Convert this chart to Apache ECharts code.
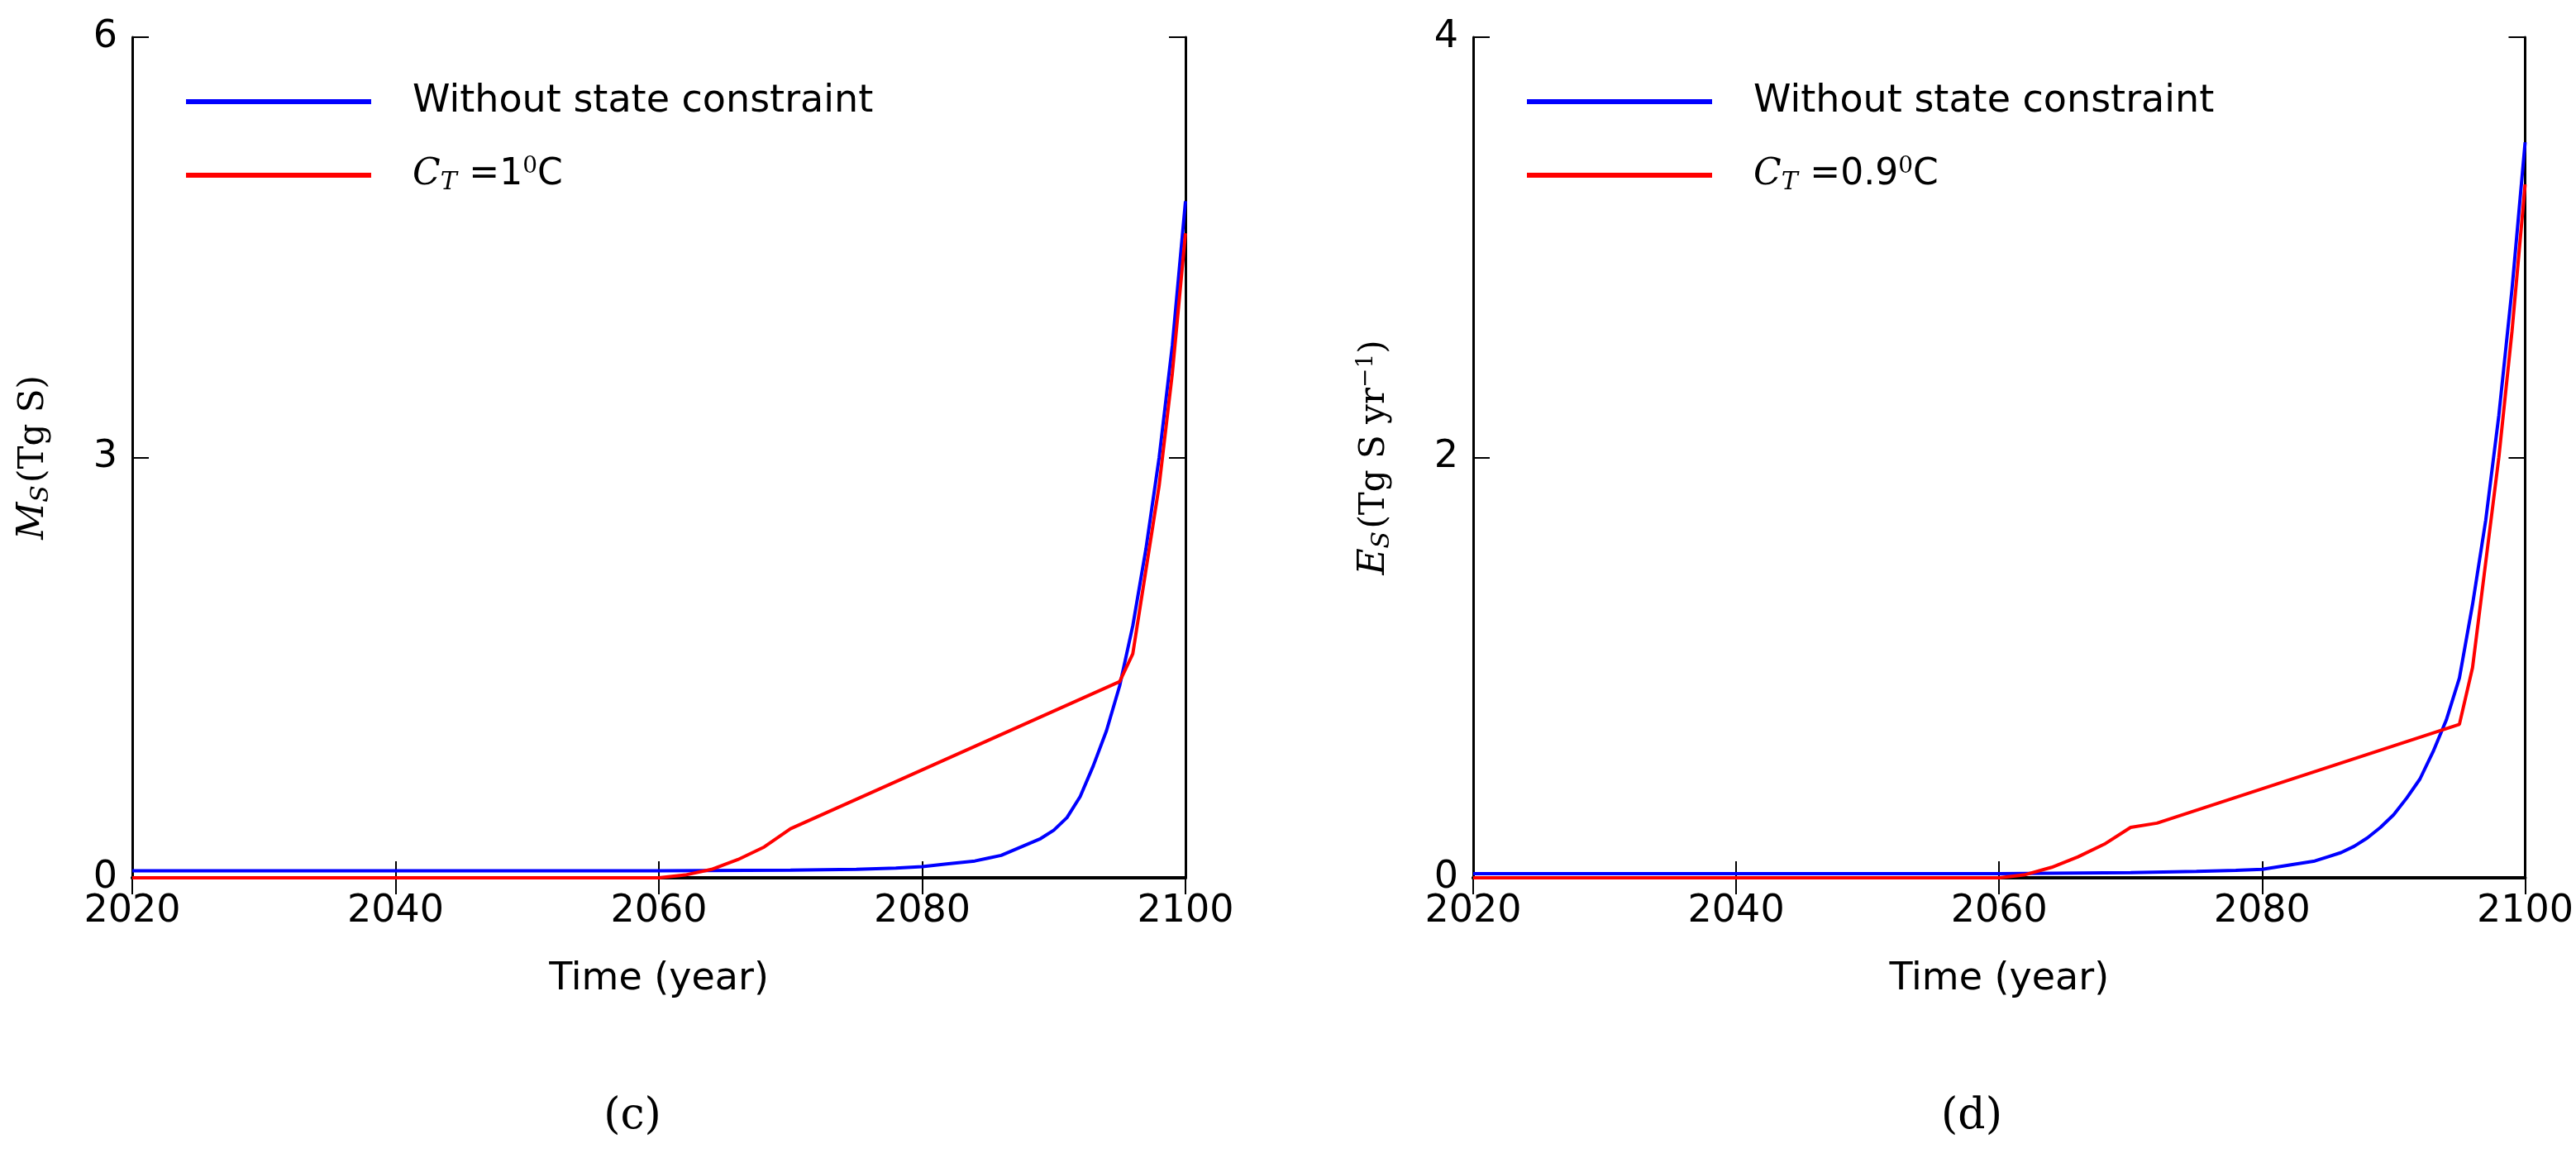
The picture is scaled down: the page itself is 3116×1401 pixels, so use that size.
<!DOCTYPE html>
<html>
<head>
<meta charset="utf-8">
<script src="https://cdn.jsdelivr.net/npm/echarts@6/dist/echarts.min.js"></script>
<style>html,body{margin:0;background:#fff}#root{width:3116px;height:1401px}</style>
</head>
<body>
<div id="root"></div>
<script>
// 数据
var yearsC = [2020, 2040, 2060, 2070, 2075, 2078, 2080, 2082, 2084, 2085, 2086, 2087, 2088, 2089, 2090, 2091, 2092, 2093, 2094, 2095, 2096, 2097, 2098, 2099, 2100];
var blueC  = [0.05, 0.05, 0.05, 0.055, 0.06, 0.07, 0.08, 0.1, 0.12, 0.14, 0.16, 0.2, 0.24, 0.28, 0.34, 0.43, 0.58, 0.8, 1.05, 1.37, 1.8, 2.35, 3.0, 3.8, 4.83];
var redYearsC = [2020, 2060, 2062, 2064, 2066, 2068, 2070, 2095, 2096, 2097, 2098, 2099, 2100];
var redC      = [0.0, 0.0, 0.02, 0.06, 0.13, 0.22, 0.35, 1.4, 1.6, 2.2, 2.8, 3.6, 4.6];

var yearsD = [2020, 2040, 2060, 2070, 2075, 2078, 2080, 2082, 2084, 2085, 2086, 2087, 2088, 2089, 2090, 2091, 2092, 2093, 2094, 2095, 2096, 2097, 2098, 2099, 2100];
var blueD  = [0.02, 0.02, 0.02, 0.025, 0.03, 0.035, 0.04, 0.06, 0.08, 0.1, 0.12, 0.15, 0.19, 0.24, 0.3, 0.38, 0.47, 0.6, 0.75, 0.95, 1.3, 1.7, 2.2, 2.8, 3.5];
var redYearsD = [2020, 2060, 2062, 2064, 2066, 2068, 2070, 2072, 2095, 2096, 2097, 2098, 2099, 2100];
var redD      = [0.0, 0.0, 0.015, 0.05, 0.1, 0.16, 0.24, 0.26, 0.73, 1.0, 1.5, 2.0, 2.6, 3.3];

var yMaxC = 6, yStepC = 3, yMaxD = 4, yStepD = 2;

function pairs(xs, ys) { return xs.map(function (x, i) { return [x, ys[i]]; }); }

var FONT = 'DejaVu Sans';
var rich = {
  i: { fontFamily: 'DejaVu Serif', fontStyle: 'italic', fontSize: 44, color: '#000' },
  s: { fontFamily: 'DejaVu Serif', fontStyle: 'italic', fontSize: 30, color: '#000', padding: [18, 0, 0, 0] },
  sup: { fontFamily: 'DejaVu Serif', fontSize: 28, color: '#000', padding: [0, 0, 20, 0] },
  n: { fontFamily: FONT, fontSize: 44, color: '#000' },
  r: { fontFamily: 'DejaVu Serif', fontSize: 42, color: '#000' }
};

var grids = [
  { left: 160, width: 1274, top: 45, height: 1017 },
  { left: 1782, width: 1274, top: 45, height: 1017 }
];

var xAxes = [], yAxes = [];
[0, 1].forEach(function (g) {
  var tick = { show: true, inside: true, length: 20, lineStyle: { color: '#000', width: 2 } };
  xAxes.push({
    type: 'value', gridIndex: g, min: 2020, max: 2100, interval: 20,
    axisLine: { lineStyle: { color: '#000', width: 3 } }, axisTick: tick, splitLine: { show: false },
    axisLabel: { fontFamily: FONT, fontSize: 46, color: '#000', margin: 18, formatter: function (v) { return String(v); } },
    name: 'Time (year)', nameLocation: 'middle', nameGap: 100,
    nameTextStyle: { fontFamily: FONT, fontSize: 46, color: '#000' }
  });
  xAxes.push({
    type: 'value', gridIndex: g, position: 'top', min: 2020, max: 2100, interval: 20,
    axisLine: { show: true, lineStyle: { color: '#000', width: 4 } }, axisTick: tick,
    axisLabel: { show: false }, splitLine: { show: false }
  });
  var mx = g === 0 ? yMaxC : yMaxD, st = g === 0 ? yStepC : yStepD;
  yAxes.push({
    type: 'value', gridIndex: g, min: 0, max: mx, interval: st,
    axisLine: { show: true, lineStyle: { color: '#000', width: 3 } }, axisTick: tick, splitLine: { show: false },
    axisLabel: { fontFamily: FONT, fontSize: 46, color: '#000', margin: 18 },
    name: g === 0 ? '{i|M}{s|S} {r|(Tg S)}' : '{i|E}{s|S} {r|(Tg S yr}{sup|−1}{r|)}',
    nameLocation: 'middle', nameGap: 95,
    nameTextStyle: { rich: rich }
  });
  yAxes.push({
    type: 'value', gridIndex: g, position: 'right', min: 0, max: mx, interval: st,
    axisLine: { show: true, lineStyle: { color: '#000', width: 3 } }, axisTick: tick,
    axisLabel: { show: false }, splitLine: { show: false }
  });
});

function line(name, data, color, g) {
  return {
    name: name, type: 'line', data: data, xAxisIndex: g * 2, yAxisIndex: g * 2,
    smooth: false, showSymbol: false, symbol: 'none', color: color,
    lineStyle: { color: color, width: 4 }
  };
}

var legendBase = {
  orient: 'vertical', top: 95, itemWidth: 224, itemHeight: 6, itemGap: 42, icon: 'rect',
  textStyle: { fontFamily: FONT, fontSize: 46, color: '#000', padding: [0, 0, 0, 45], rich: rich }
};
function legendFmt(n) {
  if (n === 'Without state constraint') return n;
  if (n === 'CT1') return '{i|C}{s|T} {n|=1}{sup|0}{n|C}';
  return '{i|C}{s|T} {n|=0.9}{sup|0}{n|C}';
}

var myChart = echarts.init(document.getElementById('root'));
myChart.setOption({
  animation: false,
  grid: grids,
  xAxis: xAxes,
  yAxis: yAxes,
  title: [
    { text: '(c)', left: 760, top: 1320, textAlign: 'center', textStyle: { fontFamily: 'DejaVu Serif', fontSize: 52, fontWeight: 'normal', color: '#000' } },
    { text: '(d)', left: 2380, top: 1320, textAlign: 'center', textStyle: { fontFamily: 'DejaVu Serif', fontSize: 52, fontWeight: 'normal', color: '#000' } }
  ],
  legend: [
    Object.assign({ left: 220, data: ['Without state constraint', 'CT1'], formatter: legendFmt }, legendBase),
    Object.assign({ left: 1842, data: ['Without state constraint ', 'CT09'], formatter: function (n) { return legendFmt(n.trim()); } }, legendBase)
  ],
  series: [
    line('Without state constraint', pairs(yearsC, blueC), '#0000ff', 0),
    line('CT1', pairs(redYearsC, redC), '#ff0000', 0),
    line('Without state constraint ', pairs(yearsD, blueD), '#0000ff', 1),
    line('CT09', pairs(redYearsD, redD), '#ff0000', 1)
  ]
});
</script>
</body>
</html>
